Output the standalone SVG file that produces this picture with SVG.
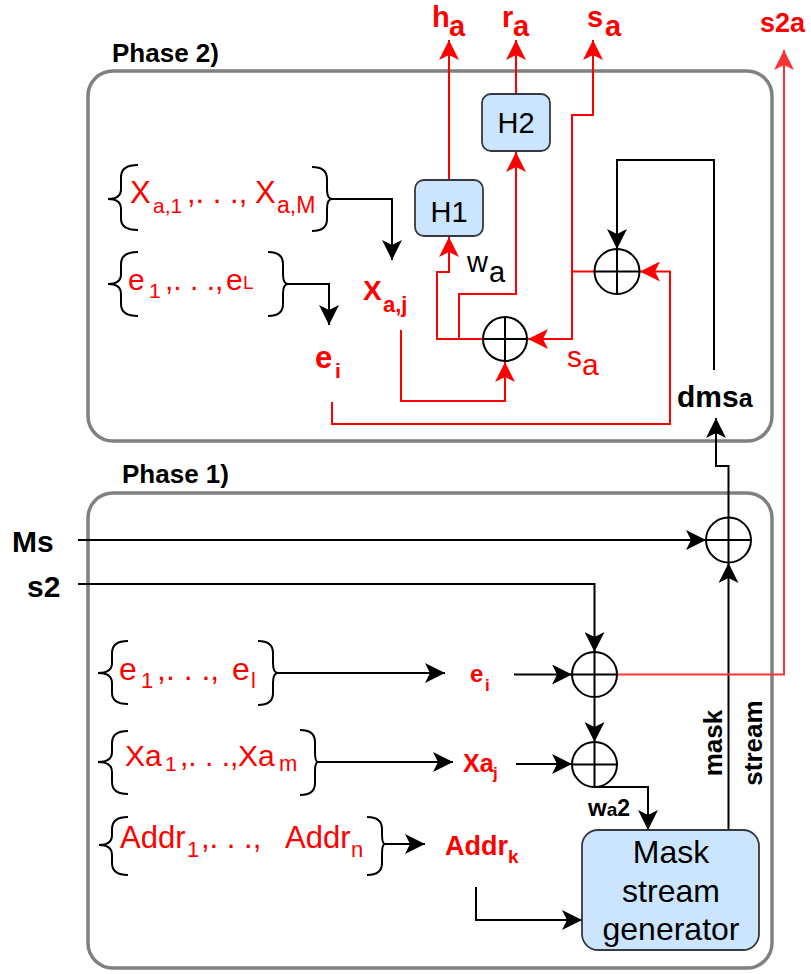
<svg xmlns="http://www.w3.org/2000/svg" width="811" height="974" viewBox="0 0 811 974">
<style>
text{font-family:"Liberation Sans",Arial,Helvetica,sans-serif}
.b{font-weight:bold}
.red{fill:#ff0000}
.blk{fill:#000}
.frame{fill:none;stroke:#808080;stroke-width:3.5}
.box{fill:#cce5ff;stroke:#36393d;stroke-width:1.8}
.k{fill:none;stroke:#000;stroke-width:2}
.r{fill:none;stroke:#ff0000;stroke-width:2}
.rl{fill:none;stroke:#ff3333;stroke-width:2}
.xor{fill:none;stroke:#000;stroke-width:2}
.ak{marker-end:url(#ab)}
.ar{marker-end:url(#arr)}
.al{marker-end:url(#arl)}
</style>
<defs>
<marker id="ab" viewBox="0 0 20 20" refX="20" refY="10" markerWidth="20" markerHeight="20" orient="auto" markerUnits="userSpaceOnUse"><path d="M0,0 L20,10 L0,20 L5,10 z" fill="#000"/></marker>
<marker id="arr" viewBox="0 0 20 20" refX="20" refY="10" markerWidth="20" markerHeight="20" orient="auto" markerUnits="userSpaceOnUse"><path d="M0,0 L20,10 L0,20 L5,10 z" fill="#ff0000"/></marker>
<marker id="arl" viewBox="0 0 20 20" refX="20" refY="10" markerWidth="20" markerHeight="20" orient="auto" markerUnits="userSpaceOnUse"><path d="M0,0 L20,10 L0,20 L5,10 z" fill="#ff3333"/></marker>
</defs>

<g id="phase2">
<rect class="frame" x="88" y="71" width="684" height="370" rx="25"/>
<text class="b blk" x="112" y="62" font-size="26">Phase 2)</text>
</g>
<g id="phase1">
<rect class="frame" x="88" y="493" width="684" height="475" rx="25"/>
<text class="b blk" x="122" y="483" font-size="26">Phase 1)</text>
</g>

<g id="connectors">
<path class="k ak" d="M332,199 H392 V260"/>
<path class="k ak" d="M288,284 H329 V325"/>
<path class="k ak" d="M714,370 V160 H617 V249"/>
<path class="r ar" d="M332,402 V424 H670 V271.5 H640"/>
<path class="r ar" d="M401,330 V401 H505 V362"/>
<path class="r ar" d="M594,271.5 H572 V115 H593 V40"/>
<path class="r ar" d="M572,271.5 V339 H528"/>
<path class="r ar" d="M483,339 H437 V272 H449 V237"/>
<path class="r ar" d="M459,339 V294 H516 V152"/>
<path class="r ar" d="M449,180 V40"/>
<path class="r ar" d="M516,94 V40"/>
<path class="k ak" d="M78,540 H706"/>
<path class="k ak" d="M78,584 H594.5 V652"/>
<path class="k ak" d="M278,673 H445"/>
<path class="k ak" d="M514,674.5 H572"/>
<path class="k ak" d="M594.5,697 V742"/>
<path class="k ak" d="M318,762 H453"/>
<path class="k ak" d="M516,764 H572"/>
<path class="k ak" d="M594.5,787 H648 V830"/>
<path class="k ak" d="M385,844 H425"/>
<path class="k ak" d="M476,887 V920 H582"/>
<path class="k ak" d="M728.5,830 V563"/>
<path class="k ak" d="M728.5,517.5 V466 H716 V418"/>
<path class="rl al" d="M617,674.5 H784 V50"/>
</g>

<g id="brace-xa-p2">
<path class="k" d="M138,165 Q121,165 121,177 L121,189 Q121,199 108,199 Q121,199 121,209 L121,219 Q121,230 138,230"/>
<path class="k" d="M312,167 Q327,167 327,179 L327,189 Q327,199 332,199 Q327,199 327,209 L327,219 Q327,231 312,231"/>
<text class="red" font-size="31"><tspan x="130" y="203">X</tspan><tspan x="153" y="213" font-size="21">a,1</tspan><tspan x="187" y="203">,. . .,</tspan><tspan x="255" y="203">X</tspan><tspan x="277" y="213" font-size="23">a,M</tspan></text>
</g>
<g id="brace-e-p2">
<path class="k" d="M138,252 Q121,252 121,264 L121,274 Q121,284 108,284 Q121,284 121,294 L121,304 Q121,316 138,316"/>
<path class="k" d="M268,252 Q283,252 283,264 L283,274 Q283,284 288,284 Q283,284 283,294 L283,304 Q283,316 268,316"/>
<text class="red" font-size="30"><tspan x="128" y="290">e</tspan><tspan x="149" y="298" font-size="21">1</tspan><tspan x="165" y="290">,. . .,</tspan><tspan x="226" y="290">e</tspan><tspan x="243" y="289" font-size="19">L</tspan></text>
</g>
<g id="label-xaj">
<text class="b red"><tspan x="363" y="300" font-size="28">X</tspan><tspan x="383" y="312" font-size="22">a,j</tspan></text>
</g>
<g id="label-ei-p2">
<text class="b red"><tspan x="315" y="368" font-size="31">e</tspan><tspan x="335" y="378" font-size="21">i</tspan></text>
</g>
<g id="H1">
<rect class="box" x="415" y="180" width="68" height="56" rx="9"/>
<text class="blk" x="449" y="222" font-size="29" text-anchor="middle">H1</text>
</g>
<g id="H2">
<rect class="box" x="482" y="94" width="68" height="57" rx="9"/>
<text class="blk" x="516" y="133" font-size="29" text-anchor="middle">H2</text>
</g>
<g id="xor-p2-low">
<circle class="xor" cx="505" cy="339" r="22"/>
<path class="xor" d="M483,339 H527 M505,317 V361"/>
</g>
<g id="xor-p2-up">
<circle class="xor" cx="617" cy="271.5" r="22.5"/>
<path class="xor" d="M594.5,271.5 H639.5 M617,249 V294"/>
</g>
<g id="label-wa">
<text class="blk" font-size="29"><tspan x="467" y="272">w</tspan><tspan x="489" y="282">a</tspan></text>
</g>
<g id="label-sa-p2">
<text class="red" font-size="30"><tspan x="567" y="367">s</tspan><tspan x="582" y="375">a</tspan></text>
</g>
<g id="label-dmsa">
<text class="b blk" x="677" y="407"><tspan font-size="30">dms</tspan><tspan font-size="25">a</tspan></text>
</g>
<g id="out-ha">
<text class="b red" font-size="29"><tspan x="432" y="27">h</tspan><tspan x="449" y="36">a</tspan></text>
</g>
<g id="out-ra">
<text class="b red" font-size="29"><tspan x="502" y="27">r</tspan><tspan x="513" y="36">a</tspan></text>
</g>
<g id="out-sa">
<text class="b red" font-size="29"><tspan x="587" y="27">s</tspan><tspan x="605" y="36">a</tspan></text>
</g>
<g id="out-s2a">
<text class="b red" x="760" y="32" font-size="27">s2a</text>
</g>

<g id="in-ms"><text class="b blk" x="12" y="552" font-size="30">Ms</text></g>
<g id="in-s2"><text class="b blk" x="27" y="597" font-size="30">s2</text></g>

<g id="brace-e-p1">
<path class="k" d="M128,641 Q112,641 112,653 L112,663 Q112,673 98,673 Q112,673 112,683 L112,693 Q112,704 128,704"/>
<path class="k" d="M258,641 Q273,641 273,653 L273,663 Q273,673 278,673 Q273,673 273,683 L273,693 Q273,705 258,705"/>
<text class="red" font-size="32"><tspan x="119" y="680">e</tspan><tspan x="141" y="688" font-size="22">1</tspan><tspan x="157" y="680">,. . .,</tspan><tspan x="232" y="680">e</tspan><tspan x="251" y="688" font-size="22">l</tspan></text>
</g>
<g id="brace-xa-p1">
<path class="k" d="M128,731 Q112,731 112,743 L112,752 Q112,762 98,762 Q112,762 112,772 L112,782 Q112,794 128,794"/>
<path class="k" d="M300,730 Q315,730 315,742 L315,752 Q315,762 318,762 Q315,762 315,772 L315,783 Q315,795 300,795"/>
<text class="red" font-size="30"><tspan x="125" y="766">Xa</tspan><tspan x="165" y="771" font-size="21">1</tspan><tspan x="180" y="766">,. . .,</tspan><tspan x="238" y="766">Xa</tspan><tspan x="279" y="771" font-size="22">m</tspan></text>
</g>
<g id="brace-addr-p1">
<path class="k" d="M128,817 Q112,817 112,829 L112,835 Q112,845 99,845 Q112,845 112,855 L112,863 Q112,875 128,875"/>
<path class="k" d="M367,817 Q382,817 382,829 L382,834 Q382,844 385,844 Q382,844 382,854 L382,863 Q382,875 367,875"/>
<text class="red" font-size="31"><tspan x="120" y="848">Addr</tspan><tspan x="187" y="857" font-size="22">1</tspan><tspan x="201" y="848">,. . ., </tspan><tspan x="285" y="848">Addr</tspan><tspan x="351" y="857" font-size="22">n</tspan></text>
</g>
<g id="label-ei-p1">
<text class="b red"><tspan x="470" y="682" font-size="24">e</tspan><tspan x="485" y="691" font-size="17">i</tspan></text>
</g>
<g id="label-xaj-p1">
<text class="b red"><tspan x="463" y="772" font-size="25">Xa</tspan><tspan x="493" y="779" font-size="17">j</tspan></text>
</g>
<g id="label-addrk">
<text class="b red"><tspan x="445" y="855" font-size="27">Addr</tspan><tspan x="508" y="863" font-size="19">k</tspan></text>
</g>
<g id="label-wa2">
<text class="b blk" x="588" y="816"><tspan font-size="24">w</tspan><tspan font-size="19">a</tspan><tspan font-size="23">2</tspan></text>
</g>
<g id="xor-top">
<circle class="xor" cx="728.5" cy="540" r="22.5"/>
<path class="xor" d="M706,540 H751 M728.5,517.5 V562.5"/>
</g>
<g id="xor-mid">
<circle class="xor" cx="594.5" cy="674.5" r="22.5"/>
<path class="xor" d="M572,674.5 H617 M594.5,652 V697"/>
</g>
<g id="xor-low">
<circle class="xor" cx="594.5" cy="764.5" r="22.5"/>
<path class="xor" d="M572,764.5 H617 M594.5,742 V787"/>
</g>
<g id="mask-gen">
<rect class="box" x="582" y="830" width="177" height="120" rx="16"/>
<text class="blk" font-size="32" text-anchor="middle"><tspan x="671" y="863">Mask</tspan><tspan x="671" y="902">stream</tspan><tspan x="671" y="940">generator</tspan></text>
</g>
<g id="label-mask-stream">
<text class="b blk" font-size="26" text-anchor="middle" transform="translate(722,743) rotate(-90)">mask</text>
<text class="b blk" font-size="26" text-anchor="middle" transform="translate(762,743) rotate(-90)">stream</text>
</g>
</svg>
